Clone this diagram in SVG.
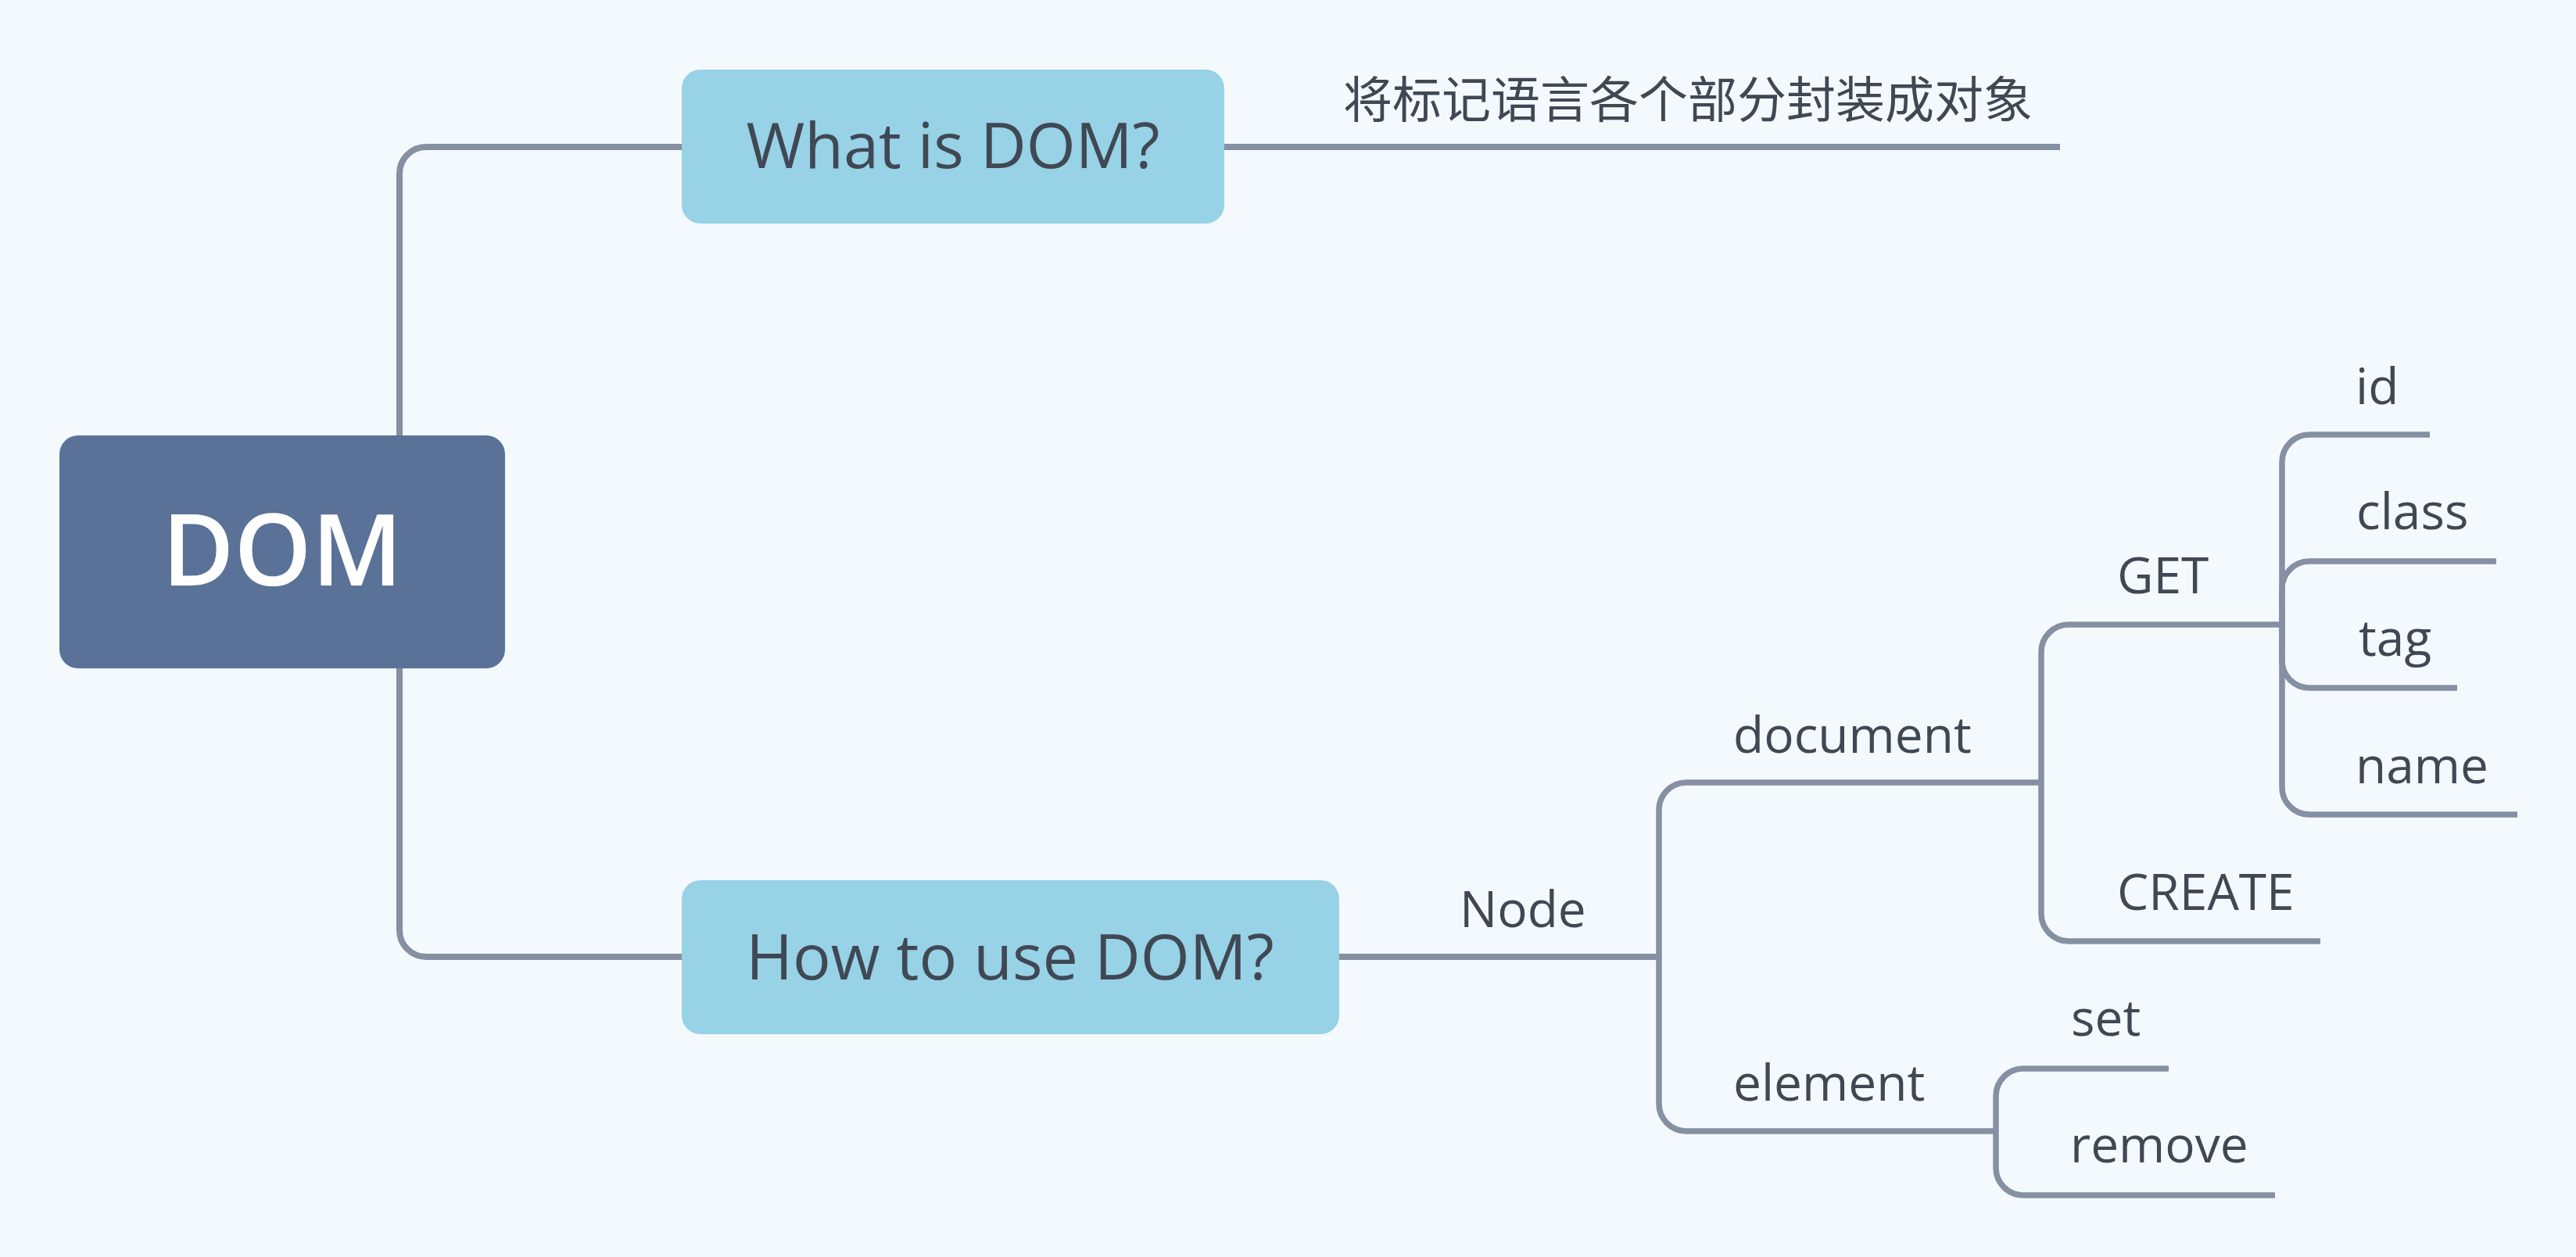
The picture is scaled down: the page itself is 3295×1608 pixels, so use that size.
<svg xmlns="http://www.w3.org/2000/svg" width="3295" height="1608" viewBox="0 0 3295 1608">
<style>
.bg{fill:#f4f9fd}
.conn path{fill:none;stroke:#8690a3;stroke-width:7.5;stroke-linecap:butt}
.conn path.main{stroke-width:8}
.central{fill:#5a7298}
.topic{fill:#97d2e6}
text{font-family:"Open Sans","Noto Sans","Noto Sans CJK SC",sans-serif;fill:#404854}
.t-central{font-size:126px;font-weight:600;fill:#ffffff;text-anchor:middle}
.t-topic{font-size:81px;text-anchor:middle}
.t-sub{font-size:64px}
.t-cjk{font-family:"Noto Sans CJK SC","Noto Sans",sans-serif;font-size:63px}
</style>
<rect class="bg" x="0" y="0" width="3295" height="1608"/>
<g id="connectors" class="conn">
<path class="main" d="M511,557 V222 A34,34 0 0 1 545,188 H873"/>
<path class="main" d="M511,855 V1190 A34,34 0 0 0 545,1224 H873"/>
<path class="main" d="M1565,188 H2635"/>
<path class="main" d="M1712,1224 H2122"/>
<path d="M2122,1224 V1036 A35,35 0 0 1 2157,1001 H2611"/>
<path d="M2122,1224 V1412 A35,35 0 0 0 2157,1447 H2553"/>
<path d="M2611,1001 V834 A35,35 0 0 1 2646,799 H2919"/>
<path d="M2611,1001 V1169 A35,35 0 0 0 2646,1204 H2968"/>
<path d="M2919,799 V591 A35,35 0 0 1 2954,556 H3108"/>
<path d="M2919,799 V753 A35,35 0 0 1 2954,718 H3193"/>
<path d="M2919,799 V845 A35,35 0 0 0 2954,880 H3143"/>
<path d="M2919,799 V1007 A35,35 0 0 0 2954,1042 H3220"/>
<path d="M2553,1447 V1402 A35,35 0 0 1 2588,1367 H2774"/>
<path d="M2553,1447 V1494 A35,35 0 0 0 2588,1529 H2910"/>
</g>
<g id="node-dom">
<rect class="central" x="76" y="557" width="570" height="298" rx="24" ry="24"/>
<text class="t-central" x="361" y="749">DOM</text>
</g>
<g id="node-what">
<rect class="topic" x="872" y="89" width="694" height="197" rx="24" ry="24"/>
<text class="t-topic" x="1219" y="215">What is DOM?</text>
</g>
<g id="node-what-desc">
<text class="t-cjk" x="1718" y="150">将标记语言各个部分封装成对象</text>
</g>
<g id="node-how">
<rect class="topic" x="872" y="1126" width="841" height="197" rx="24" ry="24"/>
<text class="t-topic" x="1292" y="1253">How to use DOM?</text>
</g>
<g id="node-node"><text class="t-sub" x="1867" y="1186">Node</text></g>
<g id="node-document"><text class="t-sub" x="2217" y="963">document</text></g>
<g id="node-element"><text class="t-sub" x="2217" y="1408">element</text></g>
<g id="node-get"><text class="t-sub" x="2708" y="759">GET</text></g>
<g id="node-create"><text class="t-sub" x="2708" y="1164">CREATE</text></g>
<g id="node-id"><text class="t-sub" x="3013" y="517">id</text></g>
<g id="node-class"><text class="t-sub" x="3014" y="677">class</text></g>
<g id="node-tag"><text class="t-sub" x="3017" y="839">tag</text></g>
<g id="node-name"><text class="t-sub" x="3013" y="1002">name</text></g>
<g id="node-set"><text class="t-sub" x="2649" y="1325">set</text></g>
<g id="node-remove"><text class="t-sub" x="2648" y="1487">remove</text></g>
</svg>
